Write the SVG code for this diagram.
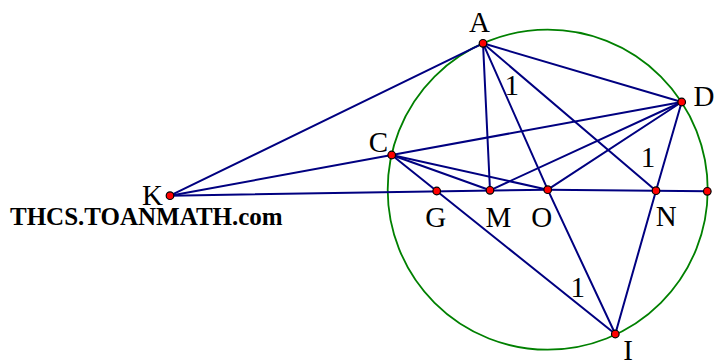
<svg xmlns="http://www.w3.org/2000/svg" width="715" height="363" viewBox="0 0 715 363">
<style>
.ln{stroke:#000080;stroke-width:2;fill:none;stroke-linecap:round}
.pt{fill:#ff0000;stroke:#000000;stroke-width:1.2}
.lb{font-family:'Liberation Serif','DejaVu Serif',serif;font-size:29px;fill:#000000;text-anchor:middle}
.wm{font-family:'Liberation Serif','DejaVu Serif',serif;font-size:25px;font-weight:bold;fill:#000000}
</style>
<rect width="715" height="363" fill="#ffffff"/>
<g id="circle">
<circle cx="547.7" cy="189.7" r="160" fill="none" stroke="#008000" stroke-width="1.8"/>
</g>
<g id="connectors">
<line class="ln" x1="170" y1="195.7" x2="483" y2="43.3"/>
<line class="ln" x1="170" y1="195.7" x2="391.7" y2="155"/>
<line class="ln" x1="170" y1="195.7" x2="547.7" y2="189.7"/>
<line class="ln" x1="547.7" y1="189.7" x2="707.3" y2="191.3"/>
<line class="ln" x1="483" y1="43.3" x2="681.7" y2="102"/>
<line class="ln" x1="483" y1="43.3" x2="490" y2="190.3"/>
<line class="ln" x1="483" y1="43.3" x2="547.7" y2="189.7"/>
<line class="ln" x1="483" y1="43.3" x2="656" y2="190.7"/>
<line class="ln" x1="391.7" y1="155" x2="681.7" y2="102"/>
<line class="ln" x1="391.7" y1="155" x2="490" y2="190.3"/>
<line class="ln" x1="391.7" y1="155" x2="547.7" y2="189.7"/>
<line class="ln" x1="391.7" y1="155" x2="615.3" y2="334"/>
<line class="ln" x1="681.7" y1="102" x2="490" y2="190.3"/>
<line class="ln" x1="681.7" y1="102" x2="547.7" y2="189.7"/>
<line class="ln" x1="681.7" y1="102" x2="656" y2="190.7"/>
<line class="ln" x1="547.7" y1="189.7" x2="615.3" y2="334"/>
<line class="ln" x1="656" y1="190.7" x2="615.3" y2="334"/>
</g>
<g id="A"><circle class="pt" cx="483" cy="43.3" r="3.8"/><text class="lb" x="479.5" y="32">A</text></g>
<g id="D"><circle class="pt" cx="681.7" cy="102" r="3.8"/><text class="lb" x="704" y="106">D</text></g>
<g id="C"><circle class="pt" cx="391.7" cy="155" r="3.8"/><text class="lb" x="378.3" y="151.5">C</text></g>
<g id="K"><circle class="pt" cx="170" cy="195.7" r="3.8"/><text class="lb" x="152.5" y="204.5">K</text></g>
<g id="G"><circle class="pt" cx="436.7" cy="191" r="3.8"/><text class="lb" x="435.8" y="227">G</text></g>
<g id="M"><circle class="pt" cx="490" cy="190.3" r="3.8"/><text class="lb" x="498.3" y="227">M</text></g>
<g id="O"><circle class="pt" cx="547.7" cy="189.7" r="3.8"/><text class="lb" x="541.7" y="227">O</text></g>
<g id="N"><circle class="pt" cx="656" cy="190.7" r="3.8"/><text class="lb" x="666.2" y="226">N</text></g>
<g id="E"><circle class="pt" cx="707.3" cy="191.3" r="3.8"/></g>
<g id="I"><circle class="pt" cx="615.3" cy="334" r="3.8"/><text class="lb" x="628" y="360">I</text></g>
<g id="angles">
<text class="lb" x="511.7" y="95">1</text>
<text class="lb" x="648" y="166.5">1</text>
<text class="lb" x="577.7" y="297">1</text>
</g>
<g id="watermark"><text class="wm" x="10" y="224.5">THCS.TOANMATH.com</text></g>
</svg>
